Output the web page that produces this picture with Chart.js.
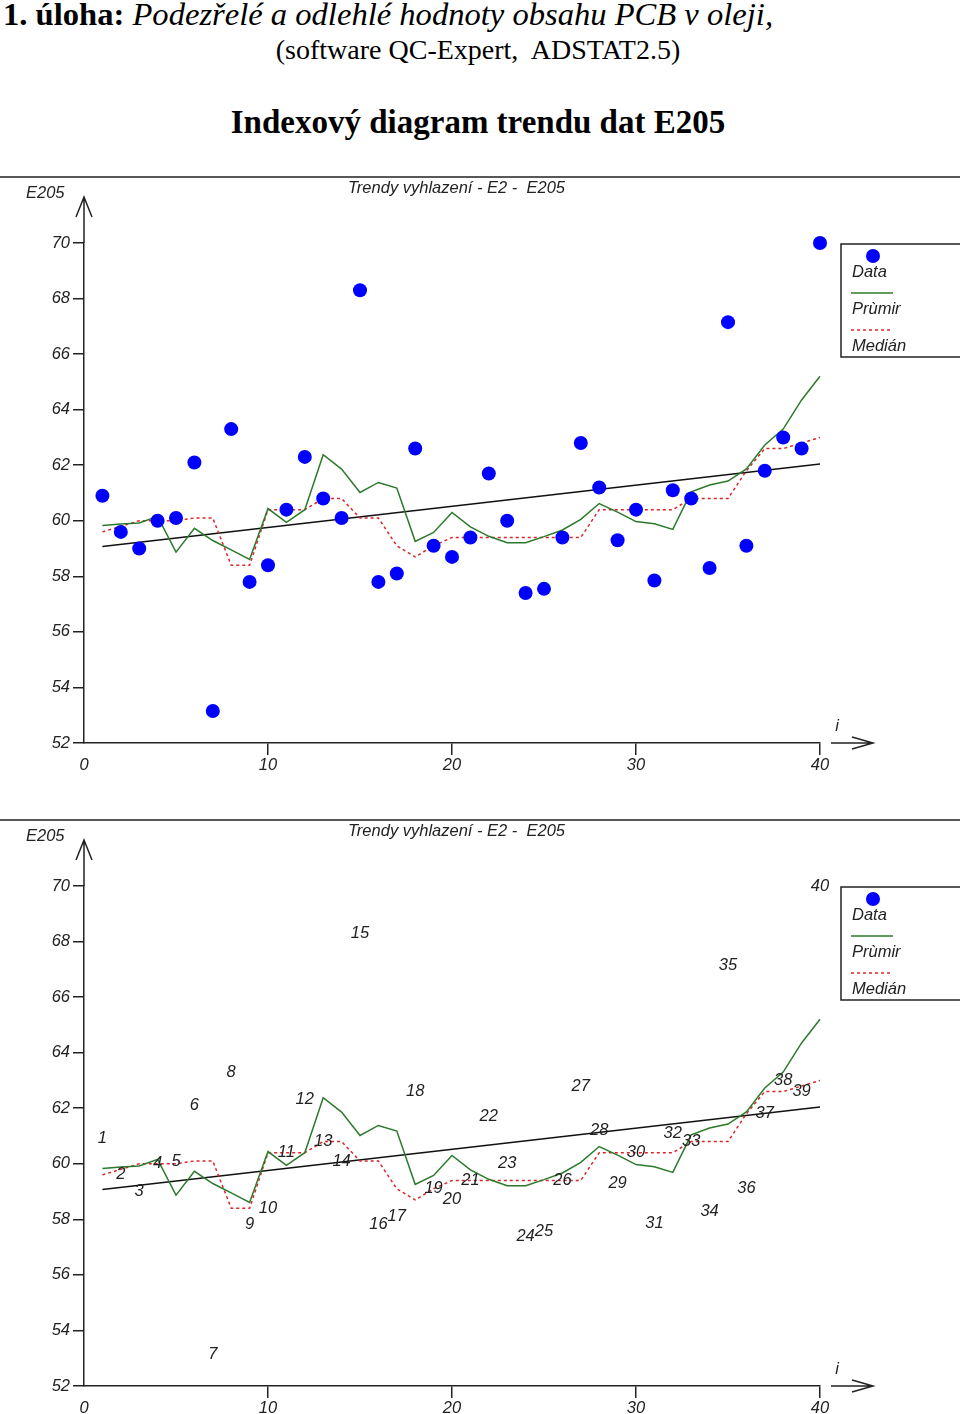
<!DOCTYPE html>
<html>
<head>
<meta charset="utf-8">
<script src="https://cdn.jsdelivr.net/npm/chart.js"></script>
<title>Indexový diagram trendu dat E205</title>
<style>
    html, body { margin: 0; padding: 0; background: #fff; overflow: hidden; }
    body { width: 960px; height: 1414px; position: relative; }
    .nadpis { position: absolute; white-space: nowrap; color: #000; font-family: 'Liberation Serif', 'Times New Roman', serif; }
    #n1 { left: 3px; top: -3px; font-size: 32.6px; line-height: 34px; }
    #n2 { left: -2px; width: 960px; text-align: center; top: 35px; font-size: 28px; line-height: 30px; }
    #n3 { left: -2px; width: 960px; text-align: center; top: 104px; font-size: 33px; line-height: 36px; font-weight: bold; }
    .panel { position: absolute; left: 0; }
</style>
</head>
<body>
<div class="nadpis" id="n1"><b>1. úloha:</b> <i>Podezřelé a odlehlé hodnoty obsahu PCB v oleji,</i></div>
<div class="nadpis" id="n2">(software QC-Expert,&nbsp; ADSTAT2.5)</div>
<div class="nadpis" id="n3">Indexový diagram trendu dat E205</div>

<div class="panel" style="top:170px"><canvas id="graf1" width="960" height="610"></canvas></div>
<div class="panel" style="top:813px"><canvas id="graf2" width="960" height="610"></canvas></div>

<script>
    // index i
    const indexy = [1, 2, 3, 4, 5, 6, 7, 8, 9, 10, 11, 12, 13, 14, 15, 16, 17, 18, 19, 20,
        21, 22, 23, 24, 25, 26, 27, 28, 29, 30, 31, 32, 33, 34, 35, 36, 37, 38, 39, 40];
    // namerene hodnoty E205
    const hodnoty = [60.9, 59.6, 59.0, 60.0, 60.1, 62.1, 53.15, 63.3, 57.8, 58.4,
        60.4, 62.3, 60.8, 60.1, 68.3, 57.8, 58.1, 62.6, 59.1, 58.7,
        59.4, 61.7, 60.0, 57.4, 57.55, 59.4, 62.8, 61.2, 59.3, 60.4,
        57.85, 61.1, 60.8, 58.3, 67.15, 59.1, 61.8, 63.0, 62.6, 70.0];
    // klouzavy prumer (zelena)
    const prumer = [59.83, 59.88, 59.92, 60.16, 58.87, 59.73, 59.29, 58.95, 58.61, 60.44,
        59.94, 60.4, 62.38, 61.86, 61.02, 61.38, 61.18, 59.26, 59.58, 60.3,
        59.78, 59.44, 59.21, 59.21, 59.43, 59.67, 60.05, 60.62, 60.31, 59.97,
        59.89, 59.69, 61.04, 61.29, 61.43, 61.87, 62.73, 63.3, 64.35, 65.2];
    // klouzavy median (cervena)
    const median = [59.6, 59.8, 60.0, 60.0, 60.0, 60.1, 60.1, 58.4, 58.4, 60.4,
        60.4, 60.4, 60.8, 60.8, 60.1, 60.1, 59.1, 58.7, 59.1, 59.4,
        59.4, 59.4, 59.4, 59.4, 59.4, 59.4, 59.4, 60.4, 60.4, 60.4,
        60.4, 60.4, 60.8, 60.8, 60.8, 61.8, 62.6, 62.6, 62.8, 63.0];
    // linearni trend
    const trendX = [1, 40];
    const trendY = [59.07, 62.04];
    // popisky os
    const osaX = [0, 10, 20, 30, 40];
    const osaY = [52, 54, 56, 58, 60, 62, 64, 66, 68, 70];

    const modra = '#0000ff';
    const zelena = '#2b7a2b';
    const cervena = '#d9262b';
    const cerna = '#222';
    const pismo = 'Liberation Sans, Arial, sans-serif';
    const kurziva = 'italic 16.5px ' + pismo;

    Chart.defaults.font.family = pismo;
    Chart.defaults.color = cerna;

    const body = (xs, ys) => xs.map((v, i) => ({ x: v, y: ys[i] }));

    // ramecek, sipky, nadpisy a legenda
    const ozdoby = {
        id: 'ozdoby',
        afterDatasetsDraw(chart, args, opts) {
            const ctx = chart.ctx;
            const a = chart.chartArea;
            const ds = chart.data.datasets;
            ctx.save();

            // cisla bodu misto tecek
            if (opts.cisla) {
                const meta = chart.getDatasetMeta(0);
                ctx.fillStyle = cerna;
                ctx.font = kurziva;
                ctx.textAlign = 'center';
                ctx.textBaseline = 'middle';
                meta.data.forEach((p, i) => ctx.fillText(String(indexy[i]), p.x, p.y));
            }

            ctx.strokeStyle = cerna;
            ctx.lineWidth = 1.5;
            ctx.beginPath();
            ctx.moveTo(0, 7); ctx.lineTo(chart.width, 7);
            // sipka y
            ctx.moveTo(a.left, a.top); ctx.lineTo(a.left, a.top - 46);
            ctx.moveTo(a.left - 8, a.top - 26); ctx.lineTo(a.left, a.top - 46); ctx.lineTo(a.left + 8, a.top - 26);
            // sipka x
            ctx.moveTo(a.right + 11, a.bottom); ctx.lineTo(a.right + 53, a.bottom);
            ctx.moveTo(a.right + 32, a.bottom - 6); ctx.lineTo(a.right + 53, a.bottom); ctx.lineTo(a.right + 32, a.bottom + 6);
            ctx.stroke();

            ctx.fillStyle = cerna;
            ctx.font = kurziva;
            ctx.textBaseline = 'middle';
            ctx.textAlign = 'left';
            ctx.fillText('E205', 26, 23);
            ctx.fillText('Trendy vyhlazení - E2 -  E205', 348, 18);
            ctx.textAlign = 'center';
            ctx.fillText('i', a.right + 17, a.bottom - 17);

            // legenda
            const lx = 841, ly = a.top + 1;
            ctx.strokeStyle = cerna;
            ctx.lineWidth = 1.5;
            ctx.strokeRect(lx, ly, 140, 113);
            ctx.fillStyle = ds[0].backgroundColor;
            ctx.beginPath();
            ctx.arc(lx + 32, ly + 12, 7, 0, Math.PI * 2);
            ctx.fill();
            ctx.strokeStyle = ds[1].borderColor;
            ctx.beginPath(); ctx.moveTo(lx + 10, ly + 49); ctx.lineTo(lx + 52, ly + 49); ctx.stroke();
            ctx.strokeStyle = ds[2].borderColor;
            ctx.setLineDash(ds[2].borderDash);
            ctx.beginPath(); ctx.moveTo(lx + 10, ly + 86); ctx.lineTo(lx + 52, ly + 86); ctx.stroke();
            ctx.setLineDash([]);
            ctx.fillStyle = cerna;
            ctx.textAlign = 'left';
            ctx.fillText(ds[0].label, lx + 11, ly + 28);
            ctx.fillText(ds[1].label, lx + 11, ly + 65);
            ctx.fillText(ds[2].label, lx + 11, ly + 102);
            ctx.restore();
        }
    };

    function nakresli(id, cisla) {
        const ctx = document.getElementById(id).getContext('2d');
        return new Chart(ctx, {
            type: 'line',
            data: {
                datasets: [{
                    label: 'Data',
                    data: body(indexy, hodnoty),
                    showLine: false,
                    backgroundColor: modra,
                    borderColor: modra,
                    pointRadius: cisla ? 0 : 7,
                    pointBorderWidth: 0,
                    clip: false
                }, {
                    label: 'Prùmir',
                    data: body(indexy, prumer),
                    borderColor: zelena,
                    borderWidth: 1.5,
                    pointRadius: 0,
                    tension: 0,
                    clip: false
                }, {
                    label: 'Medián',
                    data: body(indexy, median),
                    borderColor: cervena,
                    borderWidth: 1.5,
                    borderDash: [3, 3],
                    pointRadius: 0,
                    tension: 0,
                    clip: false
                }, {
                    label: 'Trend',
                    data: body(trendX, trendY),
                    borderColor: '#111',
                    borderWidth: 1.5,
                    pointRadius: 0,
                    tension: 0,
                    clip: false
                }]
            },
            options: {
                responsive: false,
                animation: false,
                events: [],
                layout: { padding: { top: 73, right: 140, bottom: 0, left: 0 } },
                plugins: {
                    legend: { display: false },
                    tooltip: { enabled: false },
                    ozdoby: { cisla: cisla }
                },
                scales: {
                    x: {
                        type: 'linear',
                        min: osaX[0],
                        max: osaX[osaX.length - 1],
                        afterBuildTicks: s => { s.ticks = osaX.map(v => ({ value: v })); },
                        afterFit: s => { s.height = 37; },
                        border: { color: cerna, width: 1.5 },
                        grid: {
                            drawOnChartArea: false,
                            tickLength: 12,
                            lineWidth: 1.5,
                            color: c => (c.tick && c.tick.value === 0) ? 'rgba(0,0,0,0)' : cerna
                        },
                        ticks: { color: cerna, padding: 1, maxRotation: 0, autoSkip: false, font: { size: 16.5, style: 'italic' } }
                    },
                    y: {
                        type: 'linear',
                        min: osaY[0],
                        max: osaY[osaY.length - 1],
                        afterBuildTicks: s => { s.ticks = osaY.map(v => ({ value: v })); },
                        afterFit: s => { s.width = 84; },
                        border: { color: cerna, width: 1.5 },
                        grid: { drawOnChartArea: false, tickLength: 11, lineWidth: 1.5, color: cerna },
                        ticks: { color: cerna, padding: 3, autoSkip: false, font: { size: 16.5, style: 'italic' } }
                    }
                }
            },
            plugins: [ozdoby]
        });
    }

    nakresli('graf1', false);
    nakresli('graf2', true);
</script>
</body>
</html>
